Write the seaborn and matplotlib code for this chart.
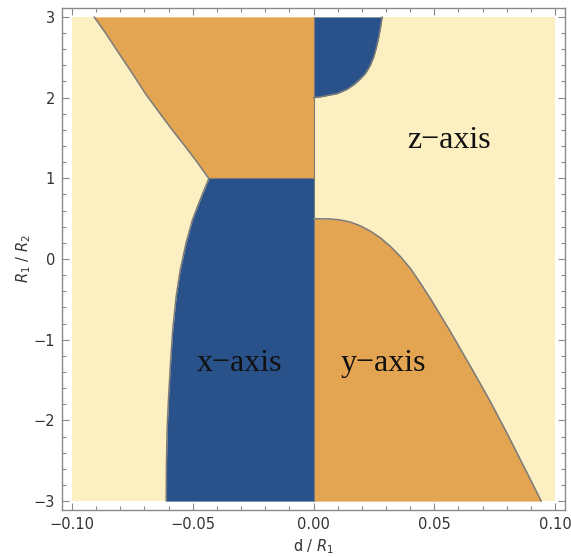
import matplotlib
matplotlib.use("Agg")
import matplotlib.pyplot as plt
import seaborn as sns
import numpy as np

# ---- data ----
# upper-left orange region, left edge (y from 3 down to 1)
ul_y = [3.0, 2.80, 2.55, 2.30, 2.05, 1.825, 1.60, 1.39, 1.205, 1.0]
ul_x = [-0.0908, -0.0861, -0.0806, -0.0750, -0.0696, -0.0641, -0.0585, -0.0530, -0.0483, -0.0434]
# x-axis (blue) region, left edge (y from 1 down to -3)
xb_y = [1.0, 0.73, 0.48, 0.195, -0.14, -0.47, -0.88, -1.29, -1.70, -2.10, -2.55, -3.0]
xb_x = [-0.0433, -0.0470, -0.0502, -0.0528, -0.0552, -0.0569, -0.0583, -0.0592, -0.0600, -0.0606, -0.0609, -0.0610]
# upper-right blue region, right edge (y from 2 to 3)
zb_y = [2.0, 2.01, 2.05, 2.10, 2.16, 2.23, 2.30, 2.40, 2.51, 2.63, 2.75, 2.88, 3.0]
zb_x = [0.0, 0.0029, 0.0098, 0.0137, 0.0167, 0.0193, 0.0215, 0.0235, 0.0250, 0.0261, 0.0270, 0.0278, 0.0284]
# y-axis (orange) region, top edge
yb_x = [0.0, 0.0070, 0.0110, 0.0153, 0.0195, 0.0236, 0.0278, 0.0319, 0.0360, 0.0402, 0.0443,
        0.0484, 0.0567, 0.0650, 0.0733, 0.0810, 0.0886, 0.0943]
yb_y = [0.5, 0.496, 0.485, 0.458, 0.41, 0.345, 0.26, 0.155, 0.03, -0.12, -0.30,
        -0.49, -0.90, -1.33, -1.77, -2.21, -2.66, -3.0]

x_ticks = [-0.10, -0.05, 0.00, 0.05, 0.10]
x_tick_labels = ["\u22120.10", "\u22120.05", "0.00", "0.05", "0.10"]
y_ticks = [-3, -2, -1, 0, 1, 2, 3]
y_tick_labels = ["\u22123", "\u22122", "\u22121", "0", "1", "2", "3"]

region_labels = ["x\u2212axis", "y\u2212axis", "z\u2212axis"]
label_x = [-0.0306, 0.0290, 0.0563]
label_y = [-1.39, -1.39, 1.375]

# ---- style ----
sns.set_style("ticks")
plt.rcParams["font.family"] = ["DejaVu Sans"]
plt.rcParams["mathtext.fontset"] = "dejavusans"

YEL = "#FCEFC1"
ORA = "#E3A552"
BLU = "#2A528A"
EDGE = "#7a7a7a"
FRAME = "#8a8a8a"

fig = plt.figure(figsize=(5.71, 5.57), dpi=100)
ax = fig.add_axes([62 / 571, 1 - 510 / 557, (565 - 62) / 571, (510 - 7.5) / 557])

# background region
ax.fill_between([-0.1, 0.1], [-3, -3], [3, 3], color=YEL, lw=0)
# orange upper-left
ax.fill_betweenx(ul_y, ul_x, 0, color=ORA, lw=0)
# blue x-axis
ax.fill_betweenx(xb_y, xb_x, 0, color=BLU, lw=0)
# blue upper-right
ax.fill_betweenx(zb_y, 0, zb_x, color=BLU, lw=0)
# orange y-axis
ax.fill_between(yb_x, -3, yb_y, color=ORA, lw=0)

# boundary lines
for bx, by in [(ul_x, ul_y), (xb_x, xb_y), (zb_x, zb_y), (yb_x, yb_y)]:
    sns.lineplot(x=bx, y=by, sort=False, estimator=None, color=EDGE, lw=1.1, ax=ax)
sns.lineplot(x=[ul_x[-1], 0.0], y=[1.0, 1.0], sort=False, estimator=None, color=EDGE, lw=0.8, ax=ax)
sns.lineplot(x=[0.0, 0.0], y=[-3.0, 3.0], sort=False, estimator=None, color=EDGE, lw=0.8, ax=ax)

for t, tx, ty in zip(region_labels, label_x, label_y):
    ax.text(tx, ty, t, ha="center", va="baseline", fontsize=23,
            family=["Liberation Serif", "DejaVu Serif"], color="#111111")

ax.set_xlim(-0.10414, 0.10414)
ax.set_ylim(-3.110, 3.117)

ax.set_xticks(x_ticks)
ax.set_xticklabels(x_tick_labels)
ax.set_yticks(y_ticks)
ax.set_yticklabels(y_tick_labels)
ax.set_xticks(np.arange(-0.10, 0.1001, 0.01), minor=True)
ax.set_yticks(np.arange(-3.0, 3.001, 0.2), minor=True)

ax.tick_params(which="both", direction="in", top=True, right=True, color=FRAME,
               labelcolor="#333333", labelsize=10.5, width=0.8)
ax.tick_params(which="major", length=5)
ax.tick_params(which="minor", length=3)
ax.tick_params(axis="x", pad=5)
ax.tick_params(axis="y", pad=5)

for s in ax.spines.values():
    s.set_visible(True)
    s.set_color(FRAME)
    s.set_linewidth(1.0)

ax.set_xlabel("d / $R_1$", fontsize=10.5, color="#333333", labelpad=4)
ax.set_ylabel("$R_1$ / $R_2$", fontsize=10.5, color="#333333", labelpad=0)

fig.savefig("out.png", dpi=100, facecolor="white")
